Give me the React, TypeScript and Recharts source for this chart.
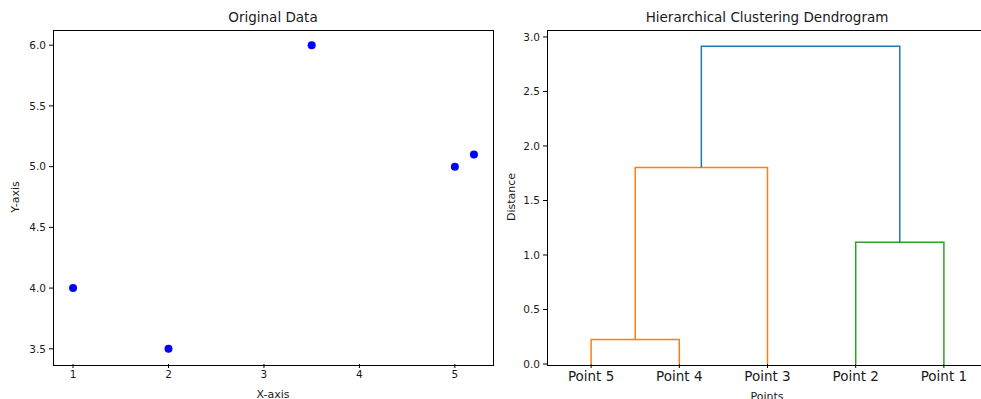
import React from 'react';
import {
  ScatterChart,
  Scatter,
  LineChart,
  Line,
  XAxis,
  YAxis,
} from 'recharts';

// scatter data
const xValues = [1, 2, 3.5, 5, 5.2];
const yValues = [4, 3.5, 6, 5, 5.1];
const scatterXTicks = [1, 2, 3, 4, 5];
const scatterYTicks = [3.5, 4.0, 4.5, 5.0, 5.5, 6.0];

// dendrogram data (single linkage)
const leafLabels = ['Point 5', 'Point 4', 'Point 3', 'Point 2', 'Point 1'];
const leafPos = [5, 15, 25, 35, 45];
const linkX = [
  [5, 5, 15, 15],
  [10, 10, 25, 25],
  [35, 35, 45, 45],
  [17.5, 17.5, 40, 40],
];
const linkHeights = [
  [0, 0.224, 0.224, 0],
  [0.224, 1.803, 1.803, 0],
  [0, 1.118, 1.118, 0],
  [1.803, 2.915, 2.915, 1.118],
];
const linkColors = ['#ff7f0e', '#ff7f0e', '#2ca02c', '#1f77b4'];
const distanceTicks = [0, 0.5, 1.0, 1.5, 2.0, 2.5, 3.0];

const FONT = '"DejaVu Sans", sans-serif';
const TEXT = '#1a1a1a';

const scatterData = xValues.map((x, i) => ({ x, y: yValues[i] }));
const links = linkX.map((xs, i) => ({
  color: linkColors[i],
  points: xs.map((x, j) => ({ x, y: linkHeights[i][j] })),
}));

const tick = { fontSize: 10.5, fill: TEXT, fontFamily: FONT };

const Label: React.FC<{ text: string; left: number; top: number; size: number; rotate?: boolean }> = ({
  text,
  left,
  top,
  size,
  rotate,
}) => (
  <div
    style={{
      position: 'absolute',
      left,
      top,
      transform: `translate(-50%, -50%)${rotate ? ' rotate(-90deg)' : ''}`,
      fontSize: size,
      fontFamily: FONT,
      color: TEXT,
      whiteSpace: 'nowrap',
      lineHeight: 1,
    }}
  >
    {text}
  </div>
);

const Box: React.FC<{ left: number; width: number }> = ({ left, width }) => (
  <div
    style={{
      position: 'absolute',
      left,
      top: 30,
      width,
      height: 334,
      border: '1px solid #000',
      pointerEvents: 'none',
    }}
  />
);

export default function App() {
  return (
    <div
      style={{
        position: 'absolute',
        left: 0,
        top: 0,
        width: 981,
        height: 399,
        overflow: 'hidden',
        background: '#fff',
      }}
    >
      <div style={{ position: 'absolute', left: 0, top: 0 }}>
        <ScatterChart width={494} height={399} margin={{ top: 30, right: 0, bottom: 0, left: 0 }}>
          <XAxis
            type="number"
            dataKey="x"
            domain={[0.79, 5.41]}
            ticks={scatterXTicks}
            allowDataOverflow
            height={35}
            tickSize={4}
            tickMargin={3}
            axisLine={false}
            stroke="#000"
            tick={tick}
          />
          <YAxis
            type="number"
            dataKey="y"
            domain={[3.375, 6.125]}
            ticks={scatterYTicks}
            allowDataOverflow
            width={53}
            tickSize={4}
            tickMargin={3}
            axisLine={false}
            stroke="#000"
            tick={tick}
            tickFormatter={(v: number) => v.toFixed(1)}
          />
          <Scatter
            data={scatterData}
            fill="#0000ff"
            isAnimationActive={false}
            shape={(p: any) => <circle cx={p.cx} cy={p.cy} r={4} fill="#0000ff" />}
          />
        </ScatterChart>
      </div>
      <Box left={53} width={439} />

      <div style={{ position: 'absolute', left: 490, top: 0 }}>
        <LineChart width={498} height={399} margin={{ top: 30, right: 0, bottom: 0, left: 0 }}>
          <XAxis
            type="number"
            dataKey="x"
            domain={[0, 50]}
            ticks={leafPos}
            allowDataOverflow
            height={35}
            tickSize={4}
            tickMargin={3}
            axisLine={false}
            stroke="#000"
            tick={{ ...tick, fontSize: 13.5 }}
            tickFormatter={(v: number) => leafLabels[leafPos.indexOf(v)] ?? ''}
          />
          <YAxis
            type="number"
            domain={[0, 3.064]}
            ticks={distanceTicks}
            allowDataOverflow
            width={57}
            tickSize={4}
            tickMargin={3}
            axisLine={false}
            stroke="#000"
            tick={tick}
            tickFormatter={(v: number) => v.toFixed(1)}
          />
          {links.map((l, i) => (
            <Line
              key={i}
              data={l.points}
              dataKey="y"
              type="linear"
              stroke={l.color}
              strokeWidth={1.5}
              dot={false}
              activeDot={false}
              isAnimationActive={false}
            />
          ))}
        </LineChart>
      </div>
      <Box left={547} width={439} />

      <Label text="Original Data" left={273} top={18} size={13.5} />
      <Label text="X-axis" left={273} top={394} size={11} />
      <Label text="Y-axis" left={15} top={197} size={11} rotate />
      <Label text="Hierarchical Clustering Dendrogram" left={767} top={18} size={13.5} />
      <Label text="Points" left={767} top={396} size={11} />
      <Label text="Distance" left={511} top={197} size={11} rotate />
    </div>
  );
}
